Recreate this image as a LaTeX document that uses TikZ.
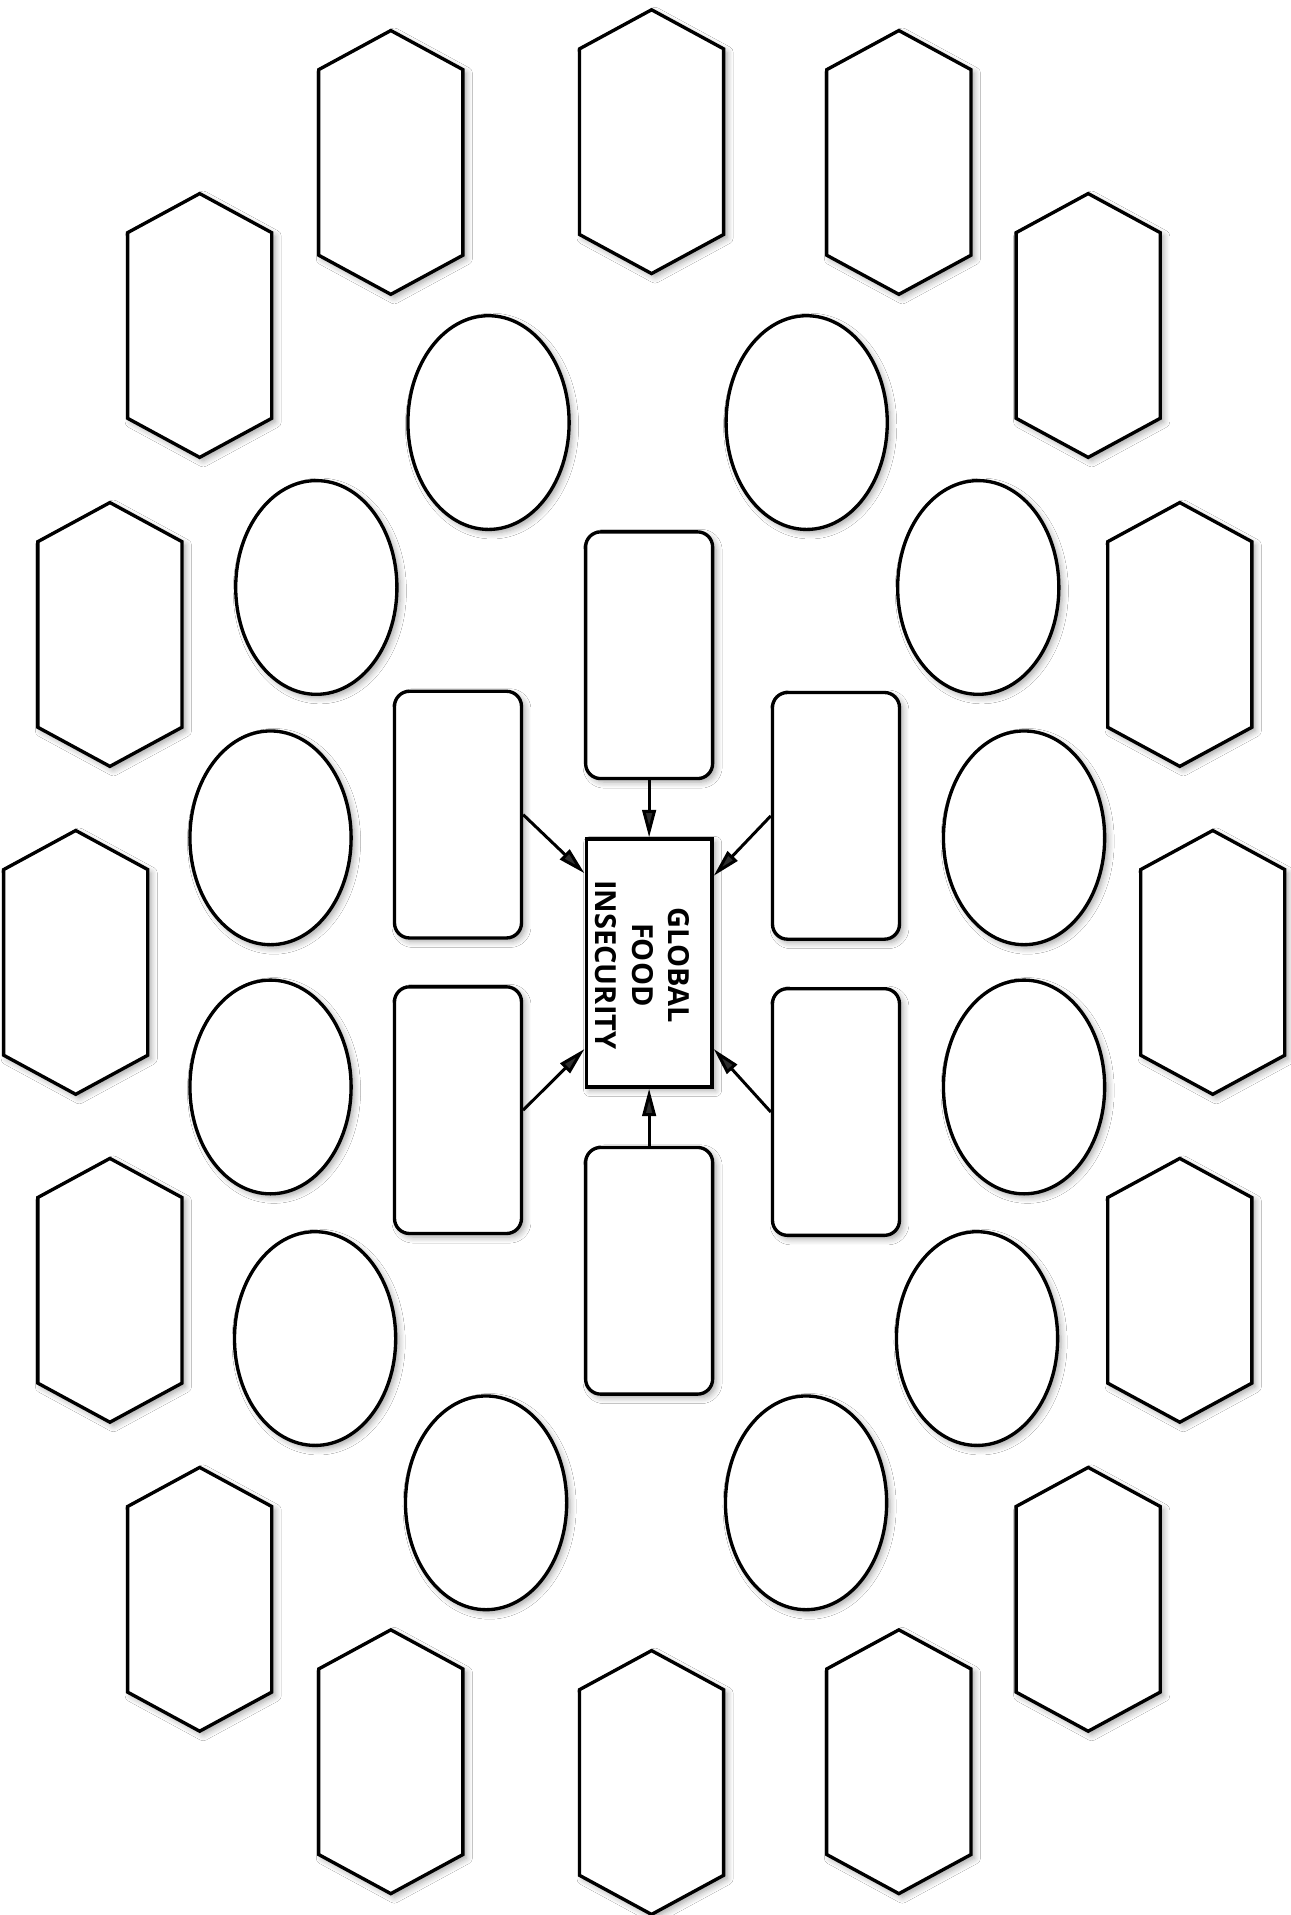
\documentclass[tikz,border=0pt]{standalone}
\usepackage{fontspec}
\setmainfont{Open Sans}
\usetikzlibrary{shapes.geometric,arrows.meta,calc,shadows.blur}
\newcommand\hexa[3]{%
  \coordinate (#1) at (#2,#3);
  \path[shp] (#1) ++(0,-108) -- ++(59,32) -- ++(0,152) -- ++(-59,32) -- ++(-59,-32) -- ++(0,-152) -- cycle;}
\begin{document}
\begin{tikzpicture}[x=0.024428cm,y=-0.024428cm,
  shp/.style={draw=black, line width=1.9pt, fill=white,
    blur shadow={shadow xshift=0.07cm, shadow yshift=-0.07cm, shadow opacity=35, shadow blur steps=6, shadow blur radius=0.12cm}},
  oval/.style={shp, ellipse, minimum width=3.2245cm, minimum height=4.275cm, inner sep=0pt},
  rbox/.style={shp, rectangle, rounded corners=0.3cm, minimum width=2.54cm, minimum height=4.934cm, inner sep=0pt},
  cbox/.style={shp, rectangle, minimum width=2.516cm, minimum height=4.959cm, inner sep=0pt},
  arr/.style={line width=1.7pt, -{Triangle[length=0.55cm,width=0.27cm]}},
  lbl/.style={font=\fontsize{16.5}{21}\selectfont\bfseries, align=center, rotate=-90, inner sep=0pt}
]
\fill[white] (0,0) rectangle (1057,1568);
\useasboundingbox (0,0) rectangle (1057,1568);

% hexagons
\hexa{h1}{320}{133}
\hexa{h2}{533.5}{116}
\hexa{h3}{736}{133}
\hexa{h4}{163.5}{266.5}
\hexa{h5}{891}{266.5}
\hexa{h6}{90}{519.5}
\hexa{h7}{966}{519.5}
\hexa{h8}{62}{788}
\hexa{h9}{993}{788}
\hexa{h10}{90}{1056.5}
\hexa{h11}{966}{1056.5}
\hexa{h12}{163.5}{1309.5}
\hexa{h13}{891}{1309.5}
\hexa{h14}{320}{1442.5}
\hexa{h15}{533.5}{1459.5}
\hexa{h16}{736}{1442.5}

% ellipses
\node[oval] (e1) at (400,346) {};
\node[oval] (e2) at (660.5,346) {};
\node[oval] (e3) at (259,481) {};
\node[oval] (e4) at (801,481) {};
\node[oval] (e5) at (221.5,686) {};
\node[oval] (e6) at (838.5,686) {};
\node[oval] (e7) at (221.5,890) {};
\node[oval] (e8) at (838.5,890) {};
\node[oval] (e9) at (258,1096) {};
\node[oval] (e10) at (800,1096) {};
\node[oval] (e11) at (398,1230.5) {};
\node[oval] (e12) at (660,1230.5) {};

% rounded boxes
\node[rbox] (rt) at (531.5,536.5) {};
\node[rbox] (rb) at (531.5,1040.5) {};
\node[rbox] (lu) at (375,667) {};
\node[rbox] (ll) at (375,909) {};
\node[rbox] (ru) at (684.5,668) {};
\node[rbox] (rl) at (684.5,910.5) {};

% center
\node[cbox] (c) at (531.5,788.5) {};
\node[lbl] (ct) at (526,790) {GLOBAL\\FOOD\\INSECURITY};

% arrows
\draw[arr] (rt) -- (c);
\draw[arr] (rb) -- (c);
\draw[arr] (lu.east) -- ($(c.north west)!0.143!(c.south west)$);
\draw[arr] (ru.west) -- ($(c.north east)!0.153!(c.south east)$);
\draw[arr] (ll.east) -- ($(c.north west)!0.842!(c.south west)$);
\draw[arr] (rl.west) -- ($(c.north east)!0.842!(c.south east)$);
\end{tikzpicture}
\end{document}
